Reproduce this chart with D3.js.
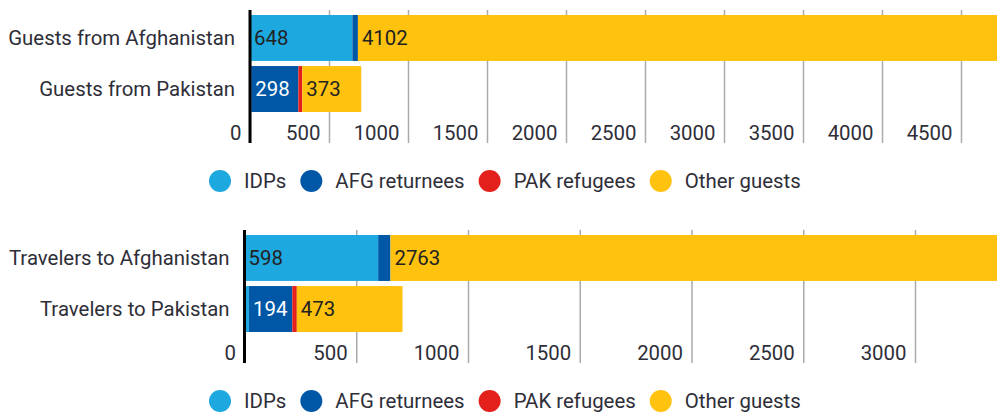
<!DOCTYPE html>
<html>
<head>
<meta charset="utf-8">
<script src="https://cdn.jsdelivr.net/npm/d3@7"></script>
<style>
body { margin: 0; background: #fff; }
svg text { font-family: Roboto, "Noto Sans", sans-serif; }
</style>
</head>
<body>
<div id="chart"></div>
<script>
// series and colours
var series_names = ["IDPs", "AFG returnees", "PAK refugees", "Other guests"];
var series_colors = ["#1ea8e0", "#0057a6", "#e3201b", "#ffc20f"];

// guests panel
var guest_categories = ["Guests from Afghanistan", "Guests from Pakistan"];
var guest_idps = [648, 8];
var guest_afg = [35, 298];
var guest_pak = [0, 25];
var guest_other = [4102, 373];
var guest_ticks = [0, 500, 1000, 1500, 2000, 2500, 3000, 3500, 4000, 4500];

// travelers panel
var travel_categories = ["Travelers to Afghanistan", "Travelers to Pakistan"];
var travel_idps = [598, 20];
var travel_afg = [55, 194];
var travel_pak = [0, 20];
var travel_other = [2763, 473];
var travel_ticks = [0, 500, 1000, 1500, 2000, 2500, 3000];

var total_width = 997;
var total_height = 412;
var text_color = "#2e2e38";
var font_size = 20.4;

var svg = d3.select("#chart").append("svg")
    .attr("width", total_width).attr("height", total_height);

function draw_panel(top, categories, cols, ticks, x0, xmax) {

    var g = svg.append("g").attr("transform", "translate(0," + top + ")");

    var rows = categories.map(function(c, i) {
        var r = {cat: c};
        series_names.forEach(function(s, j) { r[s] = cols[j][i]; });
        return r;
    });

    var x = d3.scaleLinear().domain([0, ticks[ticks.length - 1]]).range([x0, xmax]);
    var y = d3.scaleBand().domain(categories).range([15, 112]).paddingInner(0.1);

    // grid + tick labels
    var axis = g.append("g").attr("transform", "translate(0,143)")
        .call(d3.axisBottom(x).tickValues(ticks).tickSize(-133).tickFormat(d3.format("d")));
    axis.select(".domain").remove();
    axis.attr("font-size", font_size).attr("font-family", "Roboto");
    axis.selectAll(".tick line").attr("stroke", "#aaa").attr("stroke-width", 1.5);
    axis.selectAll(".tick text").attr("text-anchor", "end").attr("x", -9).attr("y", -3).attr("dy", 0)
        .attr("fill", text_color);

    var stacked = d3.stack().keys(series_names)(rows);

    var layer = g.selectAll(".layer").data(stacked).enter().append("g")
        .attr("fill", function(d, i) { return series_colors[i]; });

    layer.selectAll("rect").data(function(d) { return d; }).enter().append("rect")
        .attr("x", function(d) { return x(d[0]); })
        .attr("y", function(d) { return y(d.data.cat); })
        .attr("width", function(d) { return x(d[1]) - x(d[0]); })
        .attr("height", y.bandwidth());

    // value labels on the wide segments
    stacked.forEach(function(s, i) {
        g.append("g").selectAll("text").data(s.filter(function(d) { return x(d[1]) - x(d[0]) > 30; }))
            .enter().append("text")
            .attr("x", function(d) { return x(d[0]) + 4; })
            .attr("y", function(d) { return y(d.data.cat) + y.bandwidth() / 2; })
            .attr("dy", "0.35em")
            .attr("font-size", font_size)
            .attr("fill", i == 1 ? "#fff" : "#222")
            .text(function(d) { return d[1] - d[0]; });
    });

    // zero line
    g.append("line").attr("x1", x(0)).attr("x2", x(0)).attr("y1", 10).attr("y2", 143)
        .attr("stroke", "#000").attr("stroke-width", 3);

    // category labels
    g.append("g").selectAll("text").data(categories).enter().append("text")
        .attr("x", x(0) - 15)
        .attr("y", function(d) { return y(d) + y.bandwidth() / 2; })
        .attr("dy", "0.35em")
        .attr("text-anchor", "end")
        .attr("font-size", font_size)
        .attr("fill", text_color)
        .text(function(d) { return d; });

    // legend
    var leg = g.append("g").attr("transform", "translate(0,181)");
    var cx = 220;
    series_names.forEach(function(s, i) {
        leg.append("circle").attr("cx", cx).attr("cy", 0).attr("r", 11).attr("fill", series_colors[i]);
        var t = leg.append("text").attr("x", cx + 24).attr("y", 0).attr("dy", "0.35em")
            .attr("font-size", font_size).attr("fill", text_color).text(s);
        cx = cx + 24 + t.node().getComputedTextLength() + 25;
    });
}

draw_panel(0, guest_categories, [guest_idps, guest_afg, guest_pak, guest_other], guest_ticks, 250, 961);
draw_panel(220, travel_categories, [travel_idps, travel_afg, travel_pak, travel_other], travel_ticks, 244.5, 915);
</script>
</body>
</html>
